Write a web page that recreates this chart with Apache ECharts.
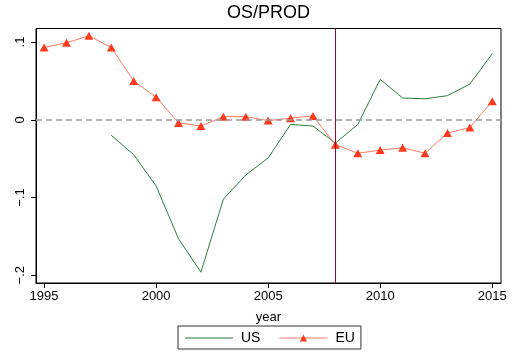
<!DOCTYPE html>
<html><head><meta charset="utf-8">
<script src="https://cdn.jsdelivr.net/npm/echarts@6/dist/echarts.min.js"></script>
<style>html,body{margin:0;padding:0;background:#fff}#c{width:512px;height:357px}</style>
</head><body><div id="c"></div>
<script>
const years = [1995,1996,1997,1998,1999,2000,2001,2002,2003,2004,2005,2006,2007,2008,2009,2010,2011,2012,2013,2014,2015];
const usValues = [null,null,null,-0.020,-0.045,-0.085,-0.153,-0.196,-0.102,-0.071,-0.049,-0.006,-0.008,-0.030,-0.006,0.052,0.028,0.027,0.031,0.046,0.085];
const euValues = [0.093,0.099,0.108,0.093,0.050,0.029,-0.004,-0.008,0.004,0.004,-0.001,0.002,0.005,-0.032,-0.043,-0.039,-0.036,-0.043,-0.017,-0.010,0.024];
const xTicks = [1995,2000,2005,2010,2015];
const yTicks = [-0.2,-0.1,0,0.1];
const yTickLabels = ['\u2212.2','\u2212.1','0','.1'];
const breakYear = 2008;

const FONT = 'Liberation Sans';
const chart = echarts.init(document.getElementById('c'));
const pairs = v => years.map((y,i)=>[y,v[i]]).filter(p=>p[1]!==null);
chart.setOption({
  animation:false,
  textStyle:{fontFamily:FONT},
  title:{text:'OS/PROD',left:227,top:4,padding:0,textStyle:{fontFamily:FONT,fontSize:18,fontWeight:'normal',color:'#000'}},
  grid:{left:36,right:11,top:28.5,bottom:74,show:true,borderColor:'#000',borderWidth:1,backgroundColor:'#fff'},
  xAxis:{type:'value',min:1994.64,max:2015.39,name:'year',nameLocation:'middle',nameGap:28,
    nameTextStyle:{fontFamily:FONT,fontSize:13,color:'#000'},
    axisLine:{onZero:false,lineStyle:{color:'#000',width:1}},
    axisTick:{show:true,length:5,lineStyle:{color:'#000'},customValues:xTicks},
    axisLabel:{customValues:xTicks,fontFamily:FONT,fontSize:13,color:'#000',margin:7,formatter:v=>String(v)},
    splitLine:{show:false}},
  yAxis:{type:'value',min:-0.2099,max:0.1174,
    axisLine:{show:true,onZero:false,lineStyle:{color:'#000',width:1}},
    axisTick:{show:true,length:5,lineStyle:{color:'#000'},customValues:yTicks},
    axisLabel:{customValues:yTicks,rotate:90,fontFamily:FONT,fontSize:13,color:'#000',margin:9,
      formatter:v=>{const i=yTicks.findIndex(t=>Math.abs(t-v)<1e-9);return i>=0?yTickLabels[i]:'';}},
    splitLine:{show:false}},
  legend:{left:178,top:326,padding:[5,6,4,6],itemWidth:48,itemHeight:9,itemGap:18,
    borderColor:'#333',borderWidth:1,
    lineStyle:{width:2,opacity:0.5},
    textStyle:{fontFamily:FONT,fontSize:14,color:'#000',padding:[0,0,0,3]},
    data:[{name:'US',itemStyle:{opacity:0}},
          {name:'EU',itemStyle:{color:'#ff3b1f'}}]},
  series:[
    {name:'US',type:'line',data:pairs(usValues),symbol:'none',color:'#2e7d3e',
     lineStyle:{color:'#2e7d3e',width:1},
     markLine:{silent:true,symbol:'none',label:{show:false},
       data:[{xAxis:breakYear,lineStyle:{color:'#8b1030',type:'solid',width:1}},
             {yAxis:0,lineStyle:{color:'#999',type:[6,4],width:1.5}}]}},
    {name:'EU',type:'line',data:pairs(euValues),symbol:'triangle',symbolSize:[9,8],color:'#ff3b1f',
     itemStyle:{color:'#ff3b1f'},lineStyle:{color:'#ff7a63',width:1}}
  ]
});
</script></body></html>
